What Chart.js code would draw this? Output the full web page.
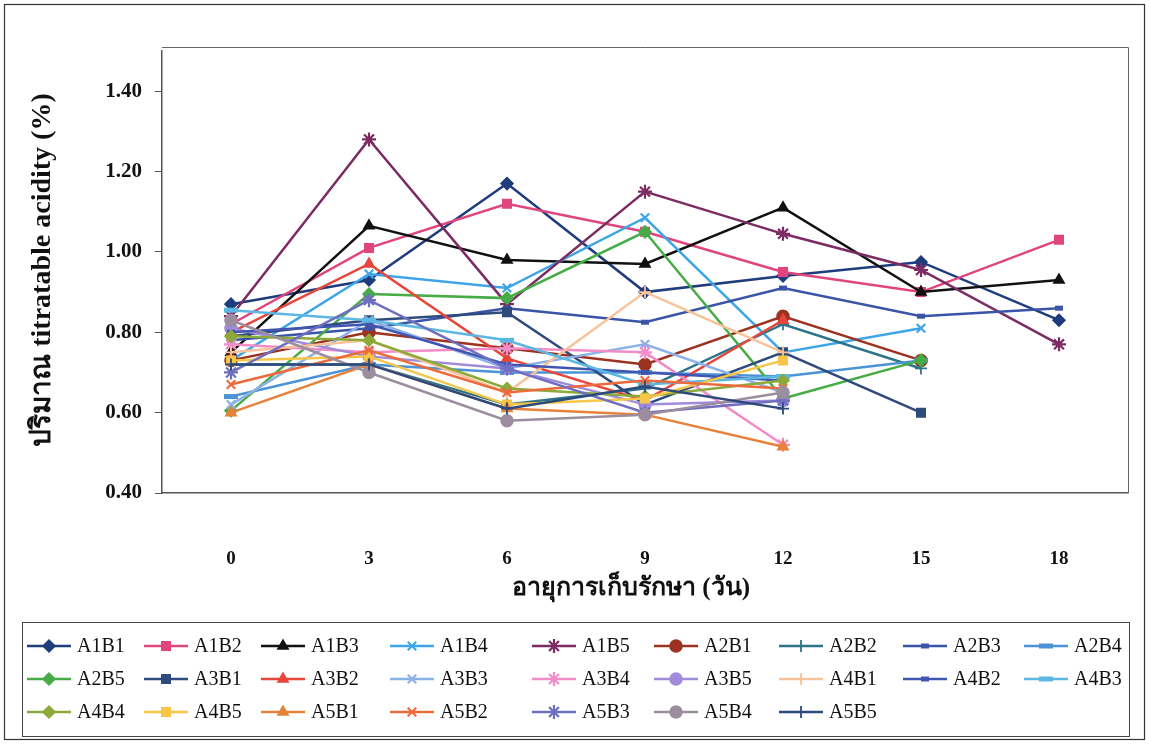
<!DOCTYPE html>
<html>
<head>
<meta charset="utf-8">
<script src="https://cdn.jsdelivr.net/npm/chart.js@4.4.1/dist/chart.umd.min.js"></script>
<style>
  html, body { margin: 0; padding: 0; background: #ffffff; }
  #wrap { position: relative; width: 1149px; height: 744px; }
  canvas { display: block; }
</style>
</head>
<body>
<div id="wrap"><canvas id="chart" width="1149" height="744"></canvas></div>
<script>
// Storage time (days) and y-axis tick values
const days = ['0', '3', '6', '9', '12', '15', '18'];
const yTicks = [0.40, 0.60, 0.80, 1.00, 1.20, 1.40];

// Titratable acidity (%) per treatment, one value per storage day
const A1B1 = [0.87, 0.93, 1.17, 0.90, 0.94, 0.975, 0.83];
const A1B2 = [0.82, 1.01, 1.12, 1.05, 0.95, 0.90, 1.03];
const A1B3 = [0.75, 1.065, 0.98, 0.97, 1.11, 0.90, 0.93];
const A1B4 = [0.73, 0.945, 0.91, 1.085, 0.75, 0.81, null];
const A1B5 = [0.84, 1.28, 0.87, 1.15, 1.045, 0.955, 0.77];
const A2B1 = [0.73, 0.80, 0.76, 0.72, 0.84, 0.73, null];
const A2B2 = [0.72, 0.72, 0.62, 0.66, 0.82, 0.71, null];
const A2B3 = [0.78, 0.81, 0.86, 0.825, 0.91, 0.84, 0.86];
const A2B4 = [0.64, 0.72, 0.70, 0.70, 0.69, 0.73, null];
const A2B5 = [0.605, 0.895, 0.885, 1.05, 0.635, 0.73, null];
const A3B1 = [0.79, 0.83, 0.85, 0.62, 0.75, 0.60, null];
const A3B2 = [0.80, 0.97, 0.735, 0.63, 0.83, null, null];
const A3B3 = [0.62, 0.83, 0.71, 0.77, 0.65, null, null];
const A3B4 = [0.77, 0.75, 0.76, 0.75, 0.52, null, null];
const A3B5 = [0.81, 0.74, 0.71, 0.62, 0.63, null, null];
const A4B1 = [0.75, 0.78, 0.65, 0.90, 0.75, null, null];
const A4B2 = [0.80, 0.82, 0.72, 0.70, 0.68, null, null];
const A4B3 = [0.855, 0.83, 0.78, 0.67, 0.69, null, null];
const A4B4 = [0.79, 0.78, 0.66, 0.64, 0.68, null, null];
const A4B5 = [0.73, 0.74, 0.62, 0.635, 0.73, null, null];
const A5B1 = [0.60, 0.72, 0.61, 0.595, 0.515, null, null];
const A5B2 = [0.67, 0.755, 0.65, 0.68, 0.66, null, null];
const A5B3 = [0.70, 0.88, 0.71, 0.60, 0.63, null, null];
const A5B4 = [0.83, 0.70, 0.58, 0.595, 0.65, null, null];
const A5B5 = [0.72, 0.72, 0.61, 0.665, 0.61, null, null];

const seriesNames = ['A1B1','A1B2','A1B3','A1B4','A1B5','A2B1','A2B2','A2B3','A2B4','A2B5',
                     'A3B1','A3B2','A3B3','A3B4','A3B5','A4B1','A4B2','A4B3','A4B4','A4B5',
                     'A5B1','A5B2','A5B3','A5B4','A5B5'];
const seriesValues = [A1B1,A1B2,A1B3,A1B4,A1B5,A2B1,A2B2,A2B3,A2B4,A2B5,
                      A3B1,A3B2,A3B3,A3B4,A3B5,A4B1,A4B2,A4B3,A4B4,A4B5,
                      A5B1,A5B2,A5B3,A5B4,A5B5];

// Line colour, marker shape, marker radius and marker stroke for each series
const styles = {
  A1B1: ['#1f3c7c', 'rectRot', 6, 1.5],
  A1B2: ['#e0457d', 'rect', 6, 1.5],
  A1B3: ['#111111', 'triangle', 6, 1.5],
  A1B4: ['#3ea6e8', 'crossRot', 6, 2.2],
  A1B5: ['#7c2c63', 'star', 7, 2.2],
  A2B1: ['#9c3220', 'circle', 6, 1.5],
  A2B2: ['#2c7488', 'cross', 6, 1.8],
  A2B3: ['#3a54a8', 'line', 4, 5],
  A2B4: ['#4b93d6', 'line', 7, 5],
  A2B5: ['#48ac46', 'rectRot', 6, 1.5],
  A3B1: ['#2f4a7c', 'rect', 6, 1.5],
  A3B2: ['#e8463a', 'triangle', 6, 1.5],
  A3B3: ['#8cb2e8', 'crossRot', 6, 2.2],
  A3B4: ['#f08cc8', 'star', 7, 2.2],
  A3B5: ['#a08bda', 'circle', 6, 1.5],
  A4B1: ['#f8c39a', 'cross', 6, 1.8],
  A4B2: ['#4056b0', 'line', 4, 5],
  A4B3: ['#5db7e3', 'line', 7, 5],
  A4B4: ['#8caa3a', 'rectRot', 6, 1.5],
  A4B5: ['#f7c548', 'rect', 6, 1.5],
  A5B1: ['#e6823a', 'triangle', 6, 1.5],
  A5B2: ['#ec6a3c', 'crossRot', 6, 2.2],
  A5B3: ['#6e6fc0', 'star', 7, 2.2],
  A5B4: ['#9c8e9e', 'circle', 6, 1.5],
  A5B5: ['#2c4a7c', 'cross', 6, 1.8]
};

const n = seriesNames.length;
const datasets = seriesNames.map((name, i) => {
  const [color, shape, radius, pbw] = styles[name];
  return {
    label: name,
    data: seriesValues[i],
    borderColor: color,
    backgroundColor: color,
    borderWidth: 2.5,
    pointStyle: shape,
    pointRadius: radius,
    pointBorderWidth: pbw,
    pointBackgroundColor: color,
    pointBorderColor: color,
    tension: 0,
    spanGaps: false,
    order: n - i   // later series drawn on top
  };
});

const serif = "'Liberation Serif', 'Times New Roman', 'Noto Sans', serif";

// Legend grid layout
const legendCols = 9;
const legendTextX = [77, 194, 311, 440, 582, 704, 829, 953, 1074];
const legendRowY = [646, 679, 712];

function drawMarker(ctx, x, y, style, radius, bw, color) {
  ctx.save();
  ctx.strokeStyle = color;
  ctx.fillStyle = color;
  ctx.lineWidth = bw;
  if (Chart.helpers && Chart.helpers.drawPoint) {
    Chart.helpers.drawPoint(ctx, { pointStyle: style, rotation: 0, radius: radius, borderWidth: bw }, x, y);
  }
  ctx.restore();
}

const decorations = {
  id: 'decorations',
  afterDraw(chart) {
    const ctx = chart.ctx;
    const a = chart.chartArea;
    ctx.save();
    // plot area frame (top and right edges)
    ctx.strokeStyle = '#666';
    ctx.lineWidth = 1;
    ctx.beginPath();
    ctx.moveTo(a.left, 47.5);
    ctx.lineTo(a.right + 0.5, 47.5);
    ctx.lineTo(a.right + 0.5, a.bottom);
    ctx.stroke();

    // outer chart border
    ctx.strokeStyle = '#333';
    ctx.lineWidth = 1.2;
    ctx.strokeRect(4.5, 4.5, 1140, 735);

    // axis titles
    ctx.fillStyle = '#111';
    ctx.textAlign = 'center';
    ctx.textBaseline = 'middle';
    ctx.font = "bold 25px " + serif;
    ctx.fillText('อายุการเก็บรักษา (วัน)', 631, 589);
    ctx.save();
    ctx.font = "bold 28px " + serif;
    ctx.translate(43, 270);
    ctx.rotate(-Math.PI / 2);
    ctx.fillText('ปริมาณ titratable acidity (%)', 0, 0);
    ctx.restore();

    // legend box
    ctx.strokeStyle = '#444';
    ctx.lineWidth = 1;
    ctx.strokeRect(22.5, 622.5, 1107, 114);

    ctx.font = "20px " + serif;
    ctx.textAlign = 'left';
    ctx.textBaseline = 'middle';
    seriesNames.forEach((name, i) => {
      const [color, shape, radius, pbw] = styles[name];
      const col = i % legendCols;
      const row = Math.floor(i / legendCols);
      const tx = legendTextX[col];
      const y = legendRowY[row];
      const x1 = tx - 50, x2 = tx - 6;
      ctx.strokeStyle = color;
      ctx.lineWidth = 2.4;
      ctx.beginPath();
      ctx.moveTo(x1, y);
      ctx.lineTo(x2, y);
      ctx.stroke();
      drawMarker(ctx, (x1 + x2) / 2, y, shape, radius, pbw, color);
      ctx.fillStyle = '#111';
      ctx.fillText(name, tx, y + 1);
    });
    ctx.restore();
  }
};

new Chart(document.getElementById('chart'), {
  type: 'line',
  data: { labels: days, datasets: datasets },
  options: {
    responsive: false,
    animation: false,
    layout: { padding: { top: 51, right: 21, left: 0, bottom: 0 } },
    plugins: { legend: { display: false }, tooltip: { enabled: false } },
    scales: {
      x: {
        offset: true,
        grid: { display: false, drawTicks: false },
        border: { display: true, color: '#555', width: 1.5 },
        ticks: {
          padding: 55,
          color: '#111',
          font: { family: serif, size: 19, weight: 'bold' }
        },
        afterFit(scale) { scale.height = 251; }
      },
      y: {
        min: 0.4,
        max: 1.5,
        afterBuildTicks(scale) { scale.ticks = yTicks.map(v => ({ value: v })); },
        grid: { drawOnChartArea: false, drawTicks: true, tickLength: 7, color: '#555' },
        border: { display: true, color: '#555', width: 1.5 },
        ticks: {
          padding: 13,
          color: '#111',
          font: { family: serif, size: 21, weight: 'bold' },
          callback: v => Number(v).toFixed(2)
        },
        afterFit(scale) { scale.width = 162; }
      }
    }
  },
  plugins: [decorations]
});
</script>
</body>
</html>
